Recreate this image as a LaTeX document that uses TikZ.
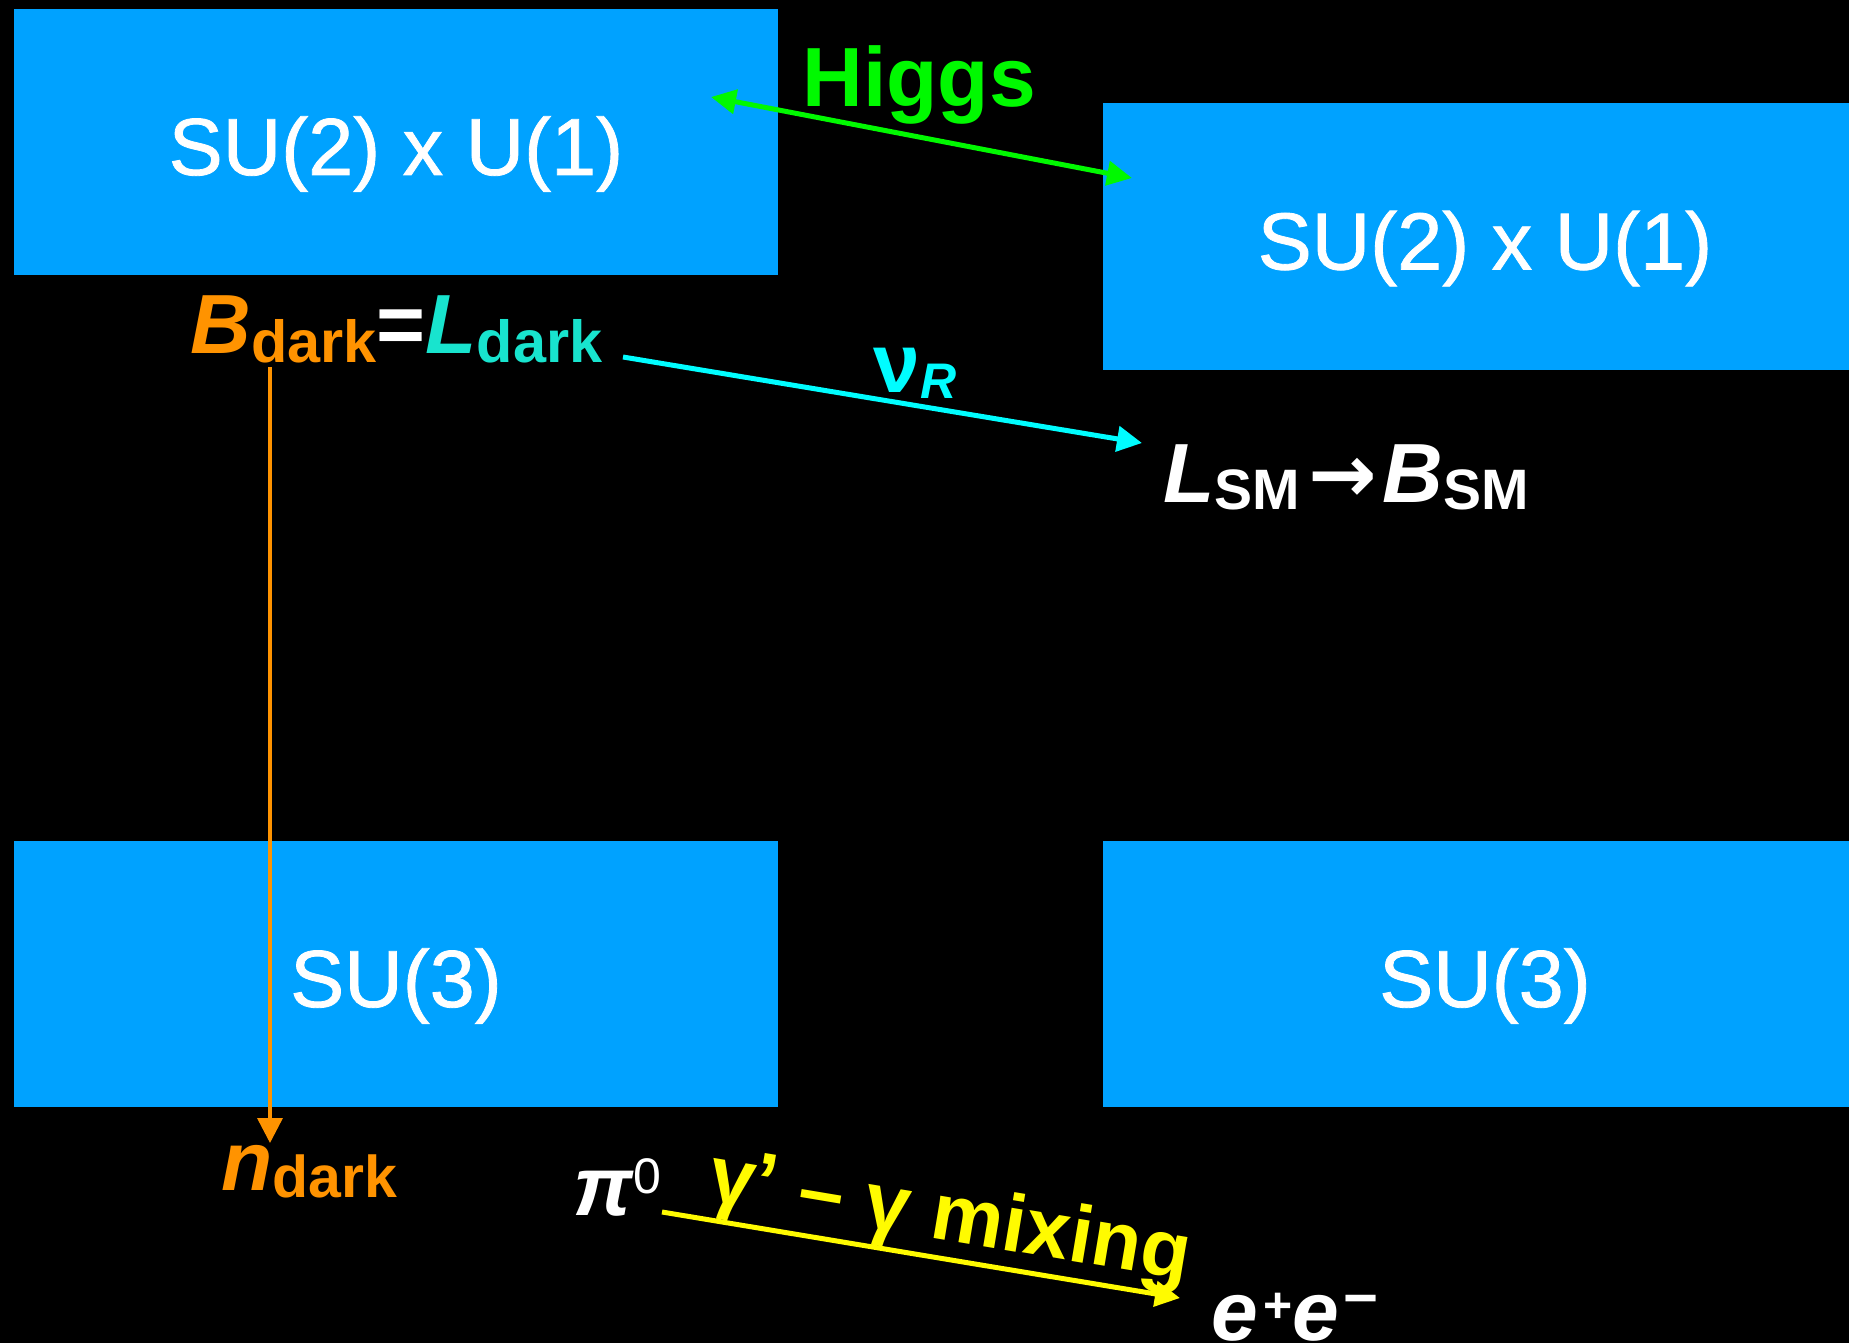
\documentclass[tikz,border=0pt]{standalone}
\usepackage{fontspec}
\setmainfont{Liberation Sans}
\newfontfamily\boxfont{Liberation Sans}[FakeBold=1.0]
\newfontfamily\arrowfont{DejaVu Sans}
\usetikzlibrary{arrows.meta}
\definecolor{boxblue}{RGB}{0,162,255}
\definecolor{orng}{RGB}{255,147,0}
\definecolor{tealc}{RGB}{24,228,206}
\definecolor{cyanc}{RGB}{0,253,255}
\definecolor{limec}{RGB}{0,249,0}
\definecolor{lemonc}{RGB}{255,251,0}
\newcommand{\dsub}[2]{\raisebox{-4.5pt}{\textcolor{#1}{\fontsize{29.7}{30}\selectfont\bfseries\upshape #2}}}
\newcommand{\smsub}[1]{\raisebox{-3.5pt}{\fontsize{28.5}{30}\selectfont\bfseries\upshape #1}}
\newcommand{\sarrow}{\hspace{4pt}{\arrowfont\bfseries\fontsize{41}{48}\selectfont →}\hspace{3pt}}
\begin{document}
\begin{tikzpicture}[x=0.5pt,y=-0.5pt,
  gbox/.style={fill=boxblue, text=white, inner sep=0pt, minimum width=382pt, minimum height=133pt,
    font=\boxfont\fontsize{40.5}{48}\selectfont, text height=40pt, text depth=7pt},
  lbl/.style={anchor=base west, inner sep=0pt},
  big/.style={font=\fontsize{42}{50}\selectfont\bfseries},
  conn/.style={line width=2.5pt},
  tip/.style={-{Triangle[length=12.5pt,width=12.5pt]}}]
\fill[black] (0,0) rectangle (1849,1343);
\clip (0,0) rectangle (1849,1343);
% boxes
\node[gbox] (ew1) at (396,142) {SU(2) x U(1)};
\node[gbox] (ew2) at (1485,236.5) {SU(2) x U(1)};
\node[gbox] (qcd1) at (396,974) {SU(3)};
\node[gbox] (qcd2) at (1485,974) {SU(3)};
% labels
\node[lbl, big, text=limec] (higgs) at (802,107) {Higgs};
\node[lbl, font=\fontsize{42}{48}\selectfont\bfseries\itshape] (bdl) at (190,353)
  {\textcolor{orng}{B}\dsub{orng}{dark}\textcolor{white}{\upshape=}\textcolor{tealc}{L}\dsub{tealc}{dark}};
\node[lbl, big, text=cyanc] (nur) at (873,392)
  {ν\raisebox{-3pt}{\fontsize{25}{30}\selectfont\itshape R}};
\node[lbl, big, text=white] (lsm) at (1163,502)
  {\itshape L\smsub{SM}\sarrow\itshape B\smsub{SM}};
\node[lbl, big, text=orng] (ndark) at (221,1190)
  {\itshape n\raisebox{-3.5pt}{\fontsize{29.5}{30}\selectfont\bfseries\upshape dark}};
\node[lbl, big, text=white] (pi) at (573,1215)
  {\itshape π\raisebox{11pt}{\fontsize{25}{30}\selectfont\mdseries\upshape 0}};
\node[lbl, big, text=white] (ee) at (1211,1340)
  {\itshape e\hspace{2.5pt}\raisebox{9pt}{\fontsize{25}{26}\selectfont\upshape +}e\hspace{2pt}\raisebox{11pt}{\fontsize{30}{32}\selectfont\upshape −}};
\node[lbl, rotate=-9.5, text=lemonc, font=\fontsize{40.5}{46}\selectfont\bfseries] (mix) at (706,1200)
  {γ’ – γ mixing};
% connector end points
\coordinate (hA) at (711,97);
\coordinate (hB) at (1132,178);
\coordinate (cA) at (623,357);
\coordinate (cB) at (1142,443);
\coordinate (oA) at (270,367);
\coordinate (oB) at (270,1143);
\coordinate (yA) at (662,1212);
\coordinate (yB) at (1180,1298);
% connectors
\draw[conn, limec, {Triangle[length=12.5pt,width=12pt]}-{Triangle[length=12.5pt,width=12pt]}] (hA) -- (hB);
\draw[conn, cyanc, tip] (cA) -- (cB);
\draw[line width=1.75pt, orng, tip] (oA) -- (oB);
\draw[conn, lemonc, tip] (yA) -- (yB);
\end{tikzpicture}
\end{document}
